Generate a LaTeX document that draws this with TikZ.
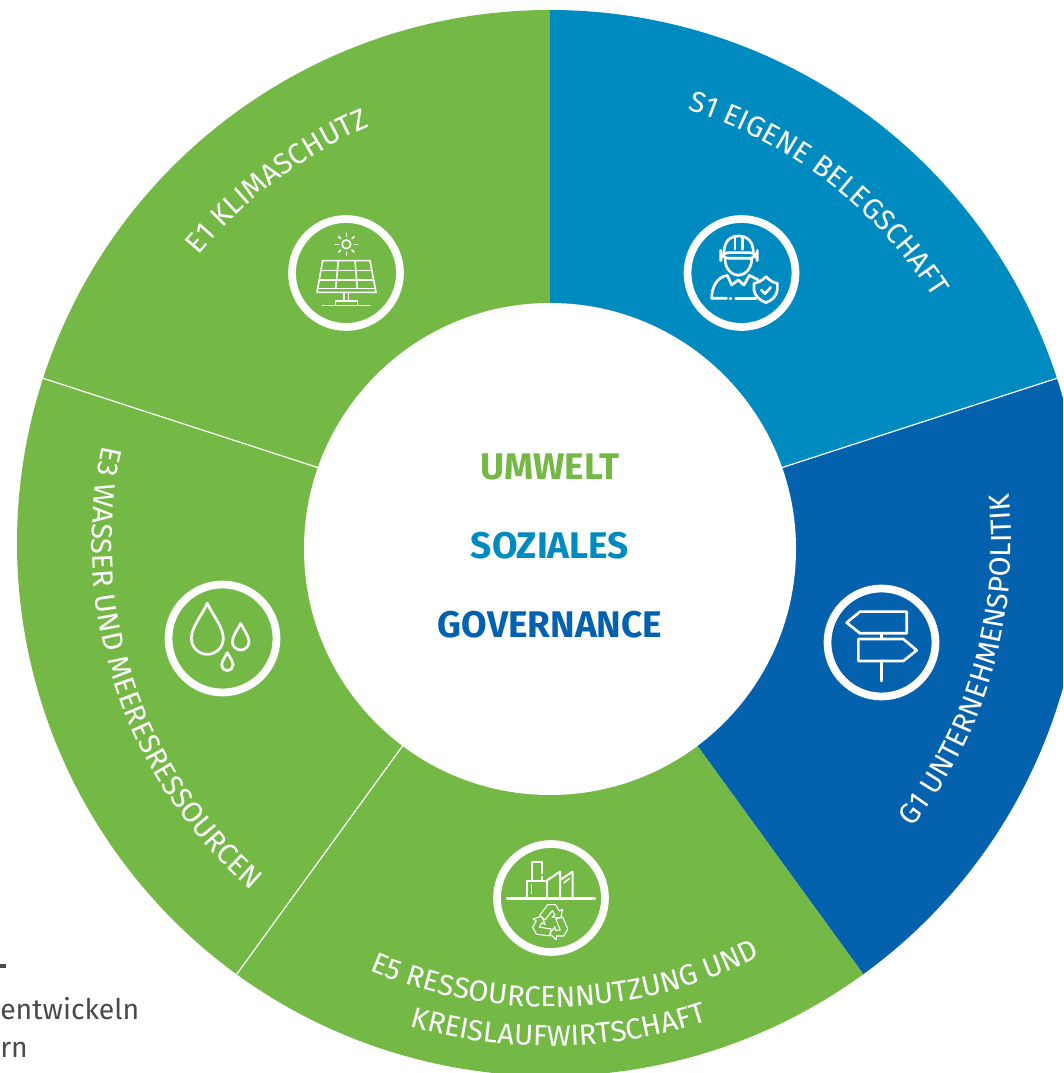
\documentclass[tikz,border=0pt]{standalone}
\usepackage{fontspec}
\setmainfont{Fira Sans}
\usetikzlibrary{decorations.text}
\definecolor{umweltgreen}{HTML}{74B946}
\definecolor{sozialblue}{HTML}{008BC0}
\definecolor{govblue}{HTML}{0461AE}
\definecolor{bodygrey}{HTML}{4A4A4A}
\newcommand{\arcfont}{\fontsize{21.8}{21.8}\selectfont}
\begin{document}
\begin{tikzpicture}
  [x=.75pt,y=.75pt,
  divider/.style={white,line width=.9pt},
  ring/.style={white,line width=5.8pt},
  iconline/.style={white,line width=1.2pt,line join=round,line cap=round},
  thickline/.style={white,line width=2pt,line join=round,line cap=round},
  pillar/.style={font=\fontsize{27.8}{27.8}\bfseries\selectfont},
  arclabel/.style={decorate,decoration={text along path,text color=white,
    text align=center,text={|\arcfont|#1}}},
  waterdrop/.pic={\draw[thickline] (0,-2.2) .. controls (-.3,-1.5) and (-1,-.7) .. (-1,0)
    .. controls (-1,.55) and (-.55,1) .. (0,1) .. controls (.55,1) and (1,.55) .. (1,0)
    .. controls (1,-.7) and (.3,-1.5) .. cycle;}]
\useasboundingbox (0,0) rectangle (1063,1073);
\clip (0,0) rectangle (1063,1073);

% sectors
\begin{scope}[shift={(550,530)}]
  \fill[umweltgreen] (0,0) -- (162:533) arc[start angle=162,end angle=90,radius=533] -- cycle;
  \fill[sozialblue] (0,0) -- (90:533) arc[start angle=90,end angle=18,radius=533] -- cycle;
  \fill[govblue] (0,0) -- (18:533) arc[start angle=18,end angle=-54,radius=533] -- cycle;
  \fill[umweltgreen] (0,0) -- (-54:533) arc[start angle=-54,end angle=-198,radius=533] -- cycle;
  \draw[divider] (0,0) -- (162:533);
  \draw[divider] (0,0) -- (18:533);
  \draw[divider] (0,0) -- (234:533);

  \path[arclabel=E1 KLIMASCHUTZ] (167:454) arc[start angle=167,end angle=87,radius=454];
  \path[arclabel=S1 EIGENE BELEGSCHAFT] (100:455) arc[start angle=100,end angle=5,radius=455];
  \path[arclabel=E3 WASSER UND MEERESRESSOURCEN] (150:458) arc[start angle=150,end angle=247,radius=458];
  \path[arclabel=G1 UNTERNEHMENSPOLITIK] (-55:461) arc[start angle=-55,end angle=23,radius=461];
  \path[arclabel=E5 RESSOURCENNUTZUNG UND] (232:464) arc[start angle=232,end angle=312,radius=464];
  \path[arclabel=KREISLAUFWIRTSCHAFT] (236:503) arc[start angle=236,end angle=306,radius=503];
\end{scope}

\fill[white] (550,524) circle (246);
\node[pillar,text=umweltgreen] (umwelt) at (550,606) {UMWELT};
\node[pillar,text=sozialblue] (soziales) at (550,527) {SOZIALES};
\node[pillar,text=govblue] (governance) at (550,448) {GOVERNANCE};

% icon rings
\draw[ring] (346,800) circle (54);
\draw[ring] (741.5,800) circle (54);
\draw[ring] (222.5,434.5) circle (54);
\draw[ring] (551,175) circle (54);
\draw[ring] (881.5,430.5) circle (54);

% solar panel
\begin{scope}[shift={(270,873)},x=.25pt,y=-.25pt]
  \draw[iconline] (229,133) circle (13);
  \foreach \a in {0,45,...,315}
    \draw[iconline] (229,133) ++(\a:24) -- ++(\a:9);
  \draw[iconline] (158,182) -- (300,182) -- (318,277) -- (141,277) -- cycle;
  \draw[iconline] (152,212) -- (306,212);
  \draw[iconline] (147,240) -- (311,240);
  \draw[iconline] (143,265) -- (315,265);
  \draw[iconline] (205,182) -- (197,265);
  \draw[iconline] (255,182) -- (262,265);
  \draw[iconline] (222,277) -- (222,303);
  \draw[iconline] (235,277) -- (235,303);
  \draw[iconline] (197,316) -- (197,303) -- (262,303) -- (262,316);
  \draw[iconline] (158,316) -- (300,316);
\end{scope}

% worker with shield
\begin{scope}[shift={(670,873)},x=.25pt,y=-.25pt]
  \draw[thickline] (162,158) .. controls (162,125) and (180,108) .. (206,108)
    .. controls (232,108) and (250,125) .. (250,158);
  \draw[thickline,rounded corners=6] (152,158) rectangle (262,175);
  \draw[thickline] (195,110) -- (195,148) (217,110) -- (217,148);
  \draw[thickline] (165,178) .. controls (165,205) and (185,226) .. (205,226)
    .. controls (225,226) and (245,205) .. (245,178);
  \draw[thickline] (172,226) -- (185,255) -- (205,240) -- (222,255) -- (238,226);
  \draw[thickline] (172,226) .. controls (140,232) and (125,262) .. (125,295) -- (170,295);
  \draw[thickline] (180,296) -- (183,296);
  \draw[thickline] (197,296) -- (258,296);
  \draw[thickline] (238,226) -- (265,240);
  \draw[thickline] (288,230) .. controls (300,242) and (310,248) .. (322,250) -- (322,270)
    .. controls (320,288) and (305,302) .. (288,308)
    .. controls (270,302) and (254,288) .. (252,270) -- (252,250)
    .. controls (265,248) and (276,242) .. cycle;
  \draw[thickline] (274,270) -- (285,281) -- (302,262);
\end{scope}

% water drops
\begin{scope}[shift={(150,503)},x=.25pt,y=-.25pt]
  \pic[scale=48] at (172,205) {waterdrop};
  \pic[scale=25] at (272,215) {waterdrop};
  \pic[scale=17] at (232,285) {waterdrop};
\end{scope}

% factory and recycling
\begin{scope}[shift={(480,243)},x=.25pt,y=-.25pt]
  \draw[thickline] (82,205) -- (345,205);
  \draw[iconline,line width=1.5pt] (155,152) -- (155,97) -- (185,97) -- (185,130);
  \draw[iconline,line width=1.5pt] (185,140) -- (185,152);
  \draw[iconline,line width=1.5pt] (142,200) -- (142,152) -- (200,152) -- (200,200);
  \draw[iconline] (155,165) -- (155,190);
  \draw[iconline,line width=1.5pt] (200,152) -- (240,125) -- (240,200);
  \draw[iconline,line width=1.5pt] (240,150) -- (278,125) -- (278,200);
  \draw[iconline] (252,158) -- (268,146);
  \foreach \a in {0,120,240}
    \draw[iconline,line width=.8pt,rotate around={\a:(212,278)},shift={(212,278)}]
      (-33,-22) -- (-9,-54) -- (15,-54) -- (26,-35) -- (36,-40) -- (30,-14)
      -- (4,-17) -- (13,-23) -- (5,-36) -- (-17,-8) -- cycle;
\end{scope}

% signpost
\begin{scope}[shift={(810,498)},x=.25pt,y=-.25pt]
  \draw[thickline] (110,143) -- (150,110) -- (290,110) -- (290,175) -- (150,175) -- cycle;
  \draw[thickline] (145,192) -- (280,192) -- (320,226) -- (280,258) -- (145,258) -- cycle;
  \draw[thickline] (215,175) -- (215,192);
  \draw[thickline] (215,258) -- (215,318);
\end{scope}

% rest of the neighbouring text
\fill[bodygrey] (0,105) rectangle (6,109);
\node[anchor=base west,inner sep=0pt,text=bodygrey,font=\fontsize{21.3}{21.3}\selectfont] (entwickeln) at (0,53) {entwickeln};
\node[anchor=base west,inner sep=0pt,text=bodygrey,font=\fontsize{21.3}{21.3}\selectfont] (rn) at (0,15) {rn};
\end{tikzpicture}
\end{document}
